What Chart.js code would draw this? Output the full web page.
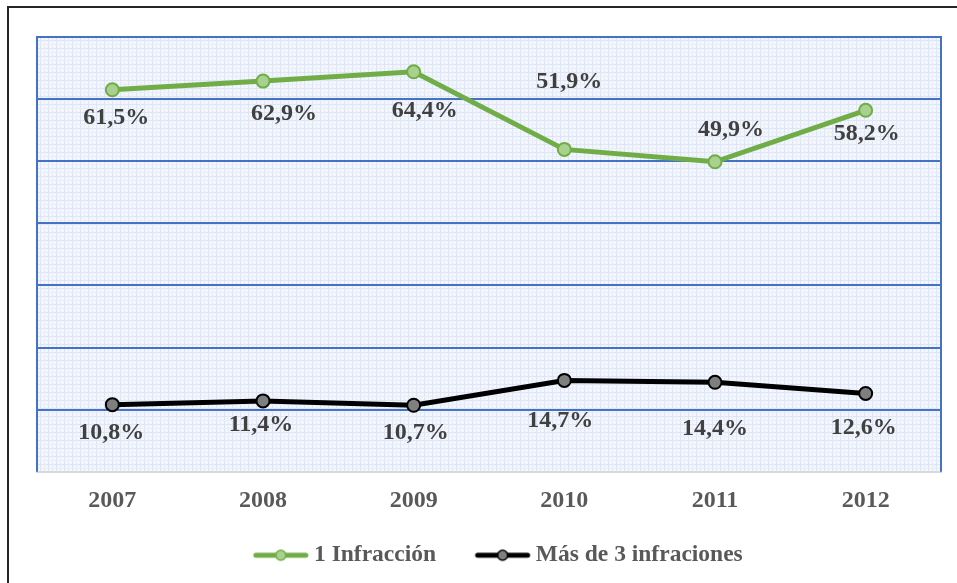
<!DOCTYPE html>
<html lang="es">

<head>
    <meta charset="UTF-8">
    <title>Infracciones 2007-2012</title>
    <script src="https://cdn.jsdelivr.net/npm/chart.js"></script>
    <style>
        html, body { margin: 0; padding: 0; background: #ffffff; }
        #wrap { width: 957px; height: 583px; }
    </style>
</head>

<body>
    <div id="wrap"><canvas id="infChart"></canvas></div>

    <script>
        const years = ['2007', '2008', '2009', '2010', '2011', '2012'];
        const unaInfraccion = [61.5, 62.9, 64.4, 51.9, 49.9, 58.2];
        const masDeTres = [10.8, 11.4, 10.7, 14.7, 14.4, 12.6];
        const yTicks = [0, 10, 20, 30, 40, 50, 60, 70];

        // label placement (pixel offsets from each point), copied by eye
        const labelShift = [
            { dx: [4, 21, 11, 5, 16, 1], dy: [28, 33, 39, -68, -32, 24] },
            { dx: [-1, -2, 2, -4, 0, -2], dy: [28, 24, 28, 40, 47, 34] }
        ];

        const serif = '"Liberation Serif", "Times New Roman", serif';

        // legend icon: transparent margin on the left, line + marker on the right
        function legendIcon(lineColor, fill, border) {
            const c = document.createElement('canvas');
            c.width = 90; c.height = 14;
            const g = c.getContext('2d');
            const x0 = 29;
            g.strokeStyle = lineColor; g.lineWidth = 5; g.lineCap = 'round';
            g.beginPath(); g.moveTo(x0 + 3, 7); g.lineTo(x0 + 53, 7); g.stroke();
            g.beginPath(); g.arc(x0 + 28, 7, 5, 0, Math.PI * 2);
            g.fillStyle = fill; g.fill();
            g.lineWidth = 1.5; g.strokeStyle = border; g.stroke();
            return c;
        }
        const icons = [
            legendIcon('#70ad47', '#a9d18e', '#70ad47'),
            legendIcon('#000000', '#7f7f7f', '#000000')
        ];

        function plotPattern(ctx) {
            const p = document.createElement('canvas');
            p.width = 8; p.height = 8;
            const g = p.getContext('2d');
            g.fillStyle = '#f3f6fc';
            g.fillRect(0, 0, 8, 8);
            g.fillStyle = '#dde4f3';
            g.fillRect(0, 0, 8, 1);
            g.fillRect(0, 0, 1, 8);
            g.fillStyle = '#e8edf8';
            g.fillRect(0, 4, 8, 1);
            g.fillRect(4, 0, 1, 8);
            return ctx.createPattern(p, 'repeat');
        }

        const framePlugin = {
            id: 'frame',
            beforeDraw(chart) {
                const { ctx, chartArea: a } = chart;
                ctx.save();
                ctx.fillStyle = plotPattern(ctx);
                ctx.fillRect(a.left, a.top, a.right - a.left, a.bottom - a.top);
                ctx.strokeStyle = '#262626';
                ctx.lineWidth = 2;
                ctx.strokeRect(8, 7, 1000, 700);
                ctx.restore();
            },
            afterDraw(chart) {
                const { ctx, chartArea: a } = chart;
                ctx.save();
                ctx.strokeStyle = '#4472c4';
                ctx.lineWidth = 2;
                ctx.beginPath();
                ctx.moveTo(a.left, a.bottom); ctx.lineTo(a.left, a.top);
                ctx.lineTo(a.right, a.top); ctx.lineTo(a.right, a.bottom);
                ctx.stroke();
                ctx.restore();
            }
        };

        const valueLabels = {
            id: 'valueLabels',
            afterDatasetsDraw(chart) {
                const { ctx } = chart;
                ctx.save();
                ctx.font = 'bold 24px ' + serif;
                ctx.fillStyle = '#404040';
                ctx.textAlign = 'center';
                ctx.textBaseline = 'middle';
                chart.data.datasets.forEach((ds, i) => {
                    chart.getDatasetMeta(i).data.forEach((pt, j) => {
                        const txt = ds.data[j].toFixed(1).replace('.', ',') + '%';
                        ctx.fillText(txt, pt.x + labelShift[i].dx[j], pt.y + labelShift[i].dy[j]);
                    });
                });
                ctx.restore();
            }
        };

        const ctx = document.getElementById('infChart').getContext('2d');
        new Chart(ctx, {
            type: 'line',
            data: {
                labels: years,
                datasets: [{
                    label: '1 Infracción',
                    data: unaInfraccion,
                    borderColor: '#70ad47',
                    borderWidth: 5,
                    pointRadius: 6.5,
                    pointBackgroundColor: '#a9d18e',
                    pointBorderColor: '#70ad47',
                    pointBorderWidth: 2,
                    tension: 0
                }, {
                    label: 'Más de 3 infraciones',
                    data: masDeTres,
                    borderColor: '#000000',
                    borderWidth: 5,
                    pointRadius: 6.5,
                    pointBackgroundColor: '#7f7f7f',
                    pointBorderColor: '#000000',
                    pointBorderWidth: 2,
                    tension: 0
                }]
            },
            options: {
                responsive: true,
                maintainAspectRatio: false,
                animation: false,
                layout: { padding: { left: 37, right: 16, top: 37, bottom: 6 } },
                scales: {
                    x: {
                        offset: true,
                        grid: { display: false },
                        border: { color: '#d9d9d9', width: 2 },
                        ticks: {
                            color: '#595959',
                            padding: 7,
                            font: { family: serif, size: 24, weight: 'bold' }
                        }
                    },
                    y: {
                        min: 0,
                        max: 70,
                        afterFit(axis) { axis.width = 0; },
                        afterBuildTicks(axis) { axis.ticks = yTicks.map(v => ({ value: v })); },
                        border: { display: false },
                        grid: {
                            drawTicks: false,
                            lineWidth: 2,
                            color: c => (c.tick.value === 0 || c.tick.value === 70) ? 'rgba(0,0,0,0)' : '#4472c4'
                        },
                        ticks: { display: false }
                    }
                },
                plugins: {
                    legend: {
                        position: 'bottom',
                        labels: {
                            usePointStyle: true,
                            pointStyleWidth: 67,
                            padding: 21,
                            color: '#595959',
                            font: { family: serif, size: 23.5, weight: 'bold' },
                            generateLabels(chart) {
                                const items = Chart.defaults.plugins.legend.labels.generateLabels(chart);
                                items.forEach((it, i) => { it.pointStyle = icons[i]; });
                                return items;
                            }
                        }
                    },
                    tooltip: { enabled: false }
                }
            },
            plugins: [framePlugin, valueLabels]
        });
    </script>
</body>

</html>
